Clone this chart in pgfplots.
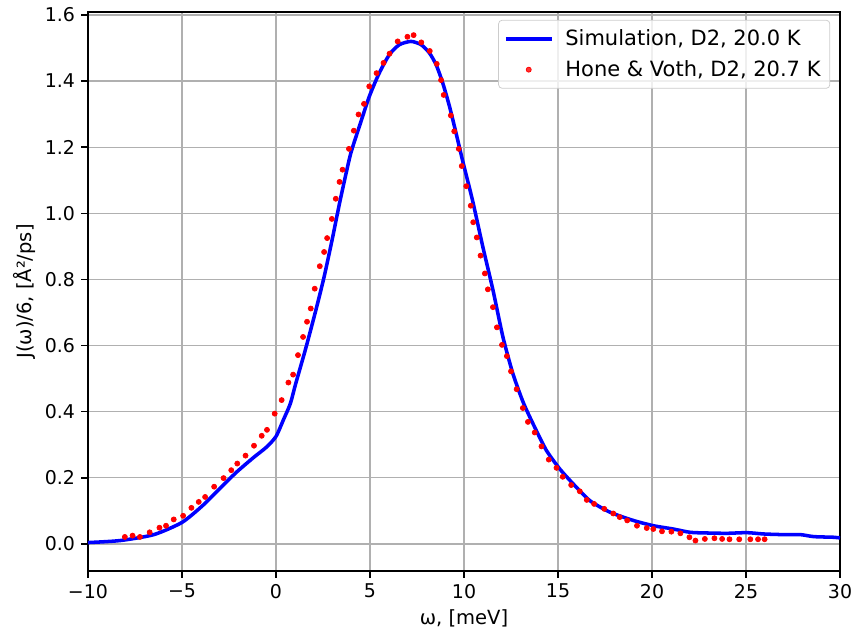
\documentclass[border=0pt]{standalone}
\usepackage{fontspec}
\setmainfont{DejaVu Sans}
\usepackage{pgfplots}
\pgfplotsset{compat=1.18}
\begin{document}
\begin{tikzpicture}
\begin{axis}[
  name=ax,
  scale only axis,
  width=752*0.538pt, height=559*0.538pt,
  xmin=-10, xmax=30, ymin=-0.082, ymax=1.609,
  xtick={-10,-5,0,5,10,15,20,25,30},
  xticklabels={−10,−5,0,5,10,15,20,25,30},
  ytick={0,0.2,0.4,0.6,0.8,1.0,1.2,1.4,1.6},
  yticklabels={0.0,0.2,0.4,0.6,0.8,1.0,1.2,1.4,1.6},
  /pgf/number format/assume math mode=true,
  tick align=outside, tick pos=left,
  major tick length=3.5pt,
  tick style={black, line width=0.8pt},
  axis line style={black, line width=0.8pt},
  grid=major,
  major grid style={color=black!31, line width=0.7pt},
  tick label style={font=\fontsize{10.2}{12}\selectfont},
  label style={font=\fontsize{10.5}{12}\selectfont},
  xlabel={ω, [meV]},
  ylabel={J(ω)/6, [Å²/ps]},
  xlabel style={yshift=1pt},
  ylabel style={yshift=-2pt},
  legend cell align=left,
  legend style={at={(0.987,0.986)}, anchor=north east, draw=black!20, rounded corners=2pt,
    fill=white, fill opacity=0.8, text opacity=1, font=\fontsize{11.3}{13.5}\selectfont,
    inner xsep=3pt, inner ysep=3pt, row sep=2.5pt},
]
\addplot[blue, line width=1.9pt, smooth, tension=0.4,
  legend image code/.code={\node[anchor=west, inner sep=0pt, outer sep=0pt, minimum width=30pt, minimum height=2pt, draw=none, fill=none] at (0pt,0pt) {}; \draw[blue, line width=1.9pt] (0pt,0pt) -- (24.6pt,0pt);}] coordinates {
(-10,0.004) (-8.3,0.010) (-6.5,0.028) (-5.0,0.065) (-3.9,0.116) (-3.0,0.167)
(-2.1,0.217) (-1.2,0.261) (-0.5,0.293) (0.0,0.325) (0.4,0.376) (0.76,0.424)
(1.05,0.485) (1.58,0.591) (2.12,0.707) (2.56,0.808) (3.0,0.924) (3.36,1.025)
(3.65,1.101) (3.98,1.182) (4.43,1.262) (4.96,1.353) (5.49,1.424) (6.03,1.480)
(6.56,1.510) (7.18,1.520) (7.72,1.510) (8.16,1.485) (8.52,1.449) (8.87,1.394)
(9.23,1.323) (9.58,1.242) (9.94,1.156) (10.45,1.040) (11.0,0.899) (11.54,0.768)
(12.07,0.626) (12.6,0.515) (13.15,0.428) (13.7,0.360) (14.38,0.283) (15.09,0.227)
(15.8,0.182) (16.69,0.131) (17.76,0.096) (19.0,0.071) (20.07,0.055) (21.13,0.045)
(22.03,0.035) (22.92,0.033) (23.98,0.032) (25.05,0.034) (25.94,0.030) (27.0,0.028)
(27.89,0.028) (28.6,0.022) (29.67,0.020) (30,0.018)
};
\addlegendentry{Simulation, D2, 20.0 K}
\addplot[only marks, mark=*, mark size=1.35pt, color=red, mark options={draw=red, fill=red},
  legend image code/.code={\node[anchor=west, inner sep=0pt, outer sep=0pt, minimum width=30pt, minimum height=2pt, draw=none, fill=none] at (0pt,0pt) {}; \fill[red] (12.3pt,0pt) circle (1.35pt);}] coordinates {
(-8.04,0.021) (-7.63,0.025) (-7.24,0.021) (-6.72,0.035) (-6.20,0.049) (-5.85,0.055)
(-5.44,0.074) (-4.94,0.085) (-4.50,0.109) (-4.11,0.127) (-3.77,0.142) (-3.29,0.173)
(-2.79,0.199) (-2.38,0.223) (-2.06,0.243) (-1.62,0.267) (-1.17,0.297) (-0.76,0.327)
(-0.48,0.345) (-0.07,0.394) (0.30,0.435) (0.66,0.488) (0.91,0.512) (1.17,0.571)
(1.44,0.626) (1.65,0.672) (1.85,0.712) (2.06,0.772) (2.33,0.840) (2.56,0.883)
(2.72,0.925) (2.97,0.983) (3.18,1.044) (3.38,1.095) (3.54,1.132) (3.88,1.195)
(4.14,1.250) (4.39,1.299) (4.68,1.331) (4.96,1.384) (5.35,1.424) (5.72,1.455)
(6.04,1.483) (6.47,1.520) (6.99,1.534) (7.32,1.539) (7.73,1.517) (8.18,1.491)
(8.55,1.452) (8.78,1.403) (8.92,1.358) (9.30,1.296) (9.48,1.248) (9.72,1.195)
(9.88,1.143) (10.12,1.082) (10.36,1.023) (10.49,0.973) (10.68,0.927) (10.88,0.872)
(11.11,0.818) (11.27,0.770) (11.54,0.716) (11.75,0.655) (12.02,0.602) (12.28,0.568)
(12.50,0.522) (12.80,0.468) (13.13,0.411) (13.40,0.369) (13.76,0.337) (14.12,0.295)
(14.51,0.255) (14.92,0.230) (15.25,0.203) (15.70,0.178) (16.16,0.159) (16.53,0.133)
(16.92,0.121) (17.46,0.106) (17.94,0.092) (18.28,0.081) (18.68,0.071) (19.20,0.055)
(19.72,0.048) (20.07,0.045) (20.53,0.038) (21.03,0.037) (21.51,0.032) (21.99,0.020)
(22.31,0.010) (22.81,0.015) (23.32,0.017) (23.73,0.015) (24.12,0.014) (24.64,0.014)
(25.23,0.014) (25.64,0.014) (25.99,0.014)
};
\addlegendentry{Hone \& Voth, D2, 20.7 K}
\end{axis}
\pgfresetboundingbox
\path ([shift={(-88*0.538pt,-68*0.538pt)}]ax.south west) rectangle ([shift={(16*0.538pt,12*0.538pt)}]ax.north east);
\end{tikzpicture}
\end{document}
